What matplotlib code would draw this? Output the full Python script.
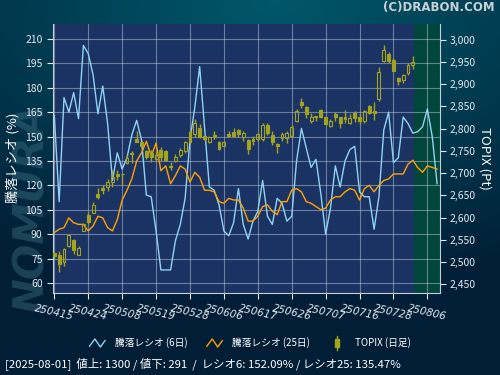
import numpy as np
import matplotlib.pyplot as plt
from matplotlib.lines import Line2D
from matplotlib.patches import Rectangle
from matplotlib.legend_handler import HandlerBase
from matplotlib.ticker import FuncFormatter

plt.rcParams['font.family'] = ['Noto Sans CJK JP', 'DejaVu Sans']

# --- data (trading days from 2025-04-15) ---
tick_labels = ["250415", "250424", "250508", "250519", "250528", "250606",
               "250617", "250626", "250707", "250716", "250728", "250806"]

ratio6 = [163, 110, 174, 165, 177, 161, 206, 201, 188, 164,
          181, 158, 123, 140, 130, 137, 151, 160, 148, 114,
          113, 92, 68, 68, 68, 86, 96, 112, 148, 168,
          193, 156, 119, 117, 108, 92, 89, 97, 118, 96,
          87, 98, 104, 123, 101, 96, 112, 109, 98, 101,
          135, 155, 143, 131, 136, 115, 90, 106, 132, 119,
          135, 142, 144, 116, 113, 113, 93, 113, 154, 165,
          134, 137, 162, 158, 152.09, 153, 156, 167, 150, 121]

ratio25 = [91, 93, 94, 100, 97, 96, 96, 92, 95, 101,
           100, 94, 92, 99, 111, 117, 124, 135, 140, 147,
           138, 146, 129, 132, 121, 126, 132, 130, 122, 128,
           125, 117, 117, 116, 110, 109, 112, 111, 111, 106,
           98, 98, 101, 107, 108, 104, 102, 110, 110, 117,
           118, 116, 110, 109, 107, 105, 106, 111, 113, 113,
           116, 118, 117, 111, 118, 120, 116, 120, 123, 124,
           127, 127, 127, 133, 135.47, 131, 128, 132, 131, 130]

topix_open = [2520, 2517, 2500, 2537, 2549, 2516, 2571, 2606, 2611, 2652,
              2667, 2668, 2680, 2698, 2698, 2723, 2746, 2776, 2771, 2749,
              2745, 2732, 2752, 2749, 2717, 2727, 2740, 2749, 2793, 2787,
              2802, 2783, 2770, 2786, 2770, 2762, 2788, 2793, 2796, 2782,
              2775, 2777, 2776, 2776, 2808, 2786, 2766, 2779, 2779, 2784,
              2818, 2859, 2848, 2818, 2829, 2842, 2826, 2805, 2832, 2826,
              2827, 2813, 2835, 2827, 2816, 2850, 2839, 2867, 2953, 2968,
              2954, 2913, 2910, 2924, 2944]
topix_high = [2523, 2524, 2532, 2564, 2552, 2537, 2588, 2612, 2636, 2667,
              2674, 2687, 2706, 2706, 2701, 2740, 2749, 2794, 2773, 2752,
              2752, 2747, 2758, 2751, 2726, 2743, 2756, 2772, 2796, 2822,
              2811, 2784, 2784, 2794, 2773, 2773, 2794, 2802, 2799, 2794,
              2777, 2784, 2790, 2812, 2812, 2794, 2767, 2792, 2794, 2807,
              2844, 2869, 2850, 2835, 2829, 2844, 2829, 2822, 2837, 2827,
              2842, 2833, 2839, 2833, 2842, 2852, 2859, 2939, 2988, 2972,
              2959, 2915, 2923, 2947, 2963]
topix_low = [2510, 2477, 2492, 2535, 2519, 2515, 2570, 2586, 2610, 2642,
             2653, 2659, 2668, 2685, 2674, 2721, 2722, 2770, 2760, 2732,
             2725, 2727, 2728, 2728, 2706, 2725, 2737, 2746, 2767, 2782,
             2779, 2773, 2767, 2777, 2752, 2760, 2782, 2781, 2782, 2773,
             2742, 2764, 2773, 2773, 2786, 2764, 2745, 2773, 2768, 2783,
             2814, 2846, 2824, 2813, 2817, 2824, 2808, 2804, 2817, 2801,
             2812, 2811, 2814, 2811, 2812, 2832, 2820, 2863, 2949, 2947,
             2927, 2899, 2903, 2921, 2934]
topix_close = [2513, 2496, 2530, 2560, 2528, 2532, 2586, 2591, 2629, 2646,
               2663, 2681, 2691, 2694, 2697, 2734, 2743, 2771, 2762, 2737,
               2736, 2740, 2736, 2730, 2713, 2736, 2752, 2770, 2770, 2812,
               2781, 2776, 2781, 2781, 2755, 2771, 2784, 2784, 2787, 2790,
               2755, 2773, 2788, 2809, 2790, 2771, 2760, 2788, 2790, 2803,
               2839, 2852, 2832, 2826, 2825, 2827, 2811, 2818, 2827, 2812,
               2822, 2824, 2824, 2818, 2839, 2835, 2835, 2927, 2977, 2951,
               2930, 2908, 2921, 2943, 2950]

OLIVE = '#a3a31c'
BLUE = '#8fd3f2'
ORANGE = '#ffa200'
TXT = '#e4e8f0'


class ZigzagHandler(HandlerBase):
    def create_artists(self, legend, orig_handle, xdescent, ydescent,
                       width, height, fontsize, trans):
        xs = -xdescent + width * np.array([0, 0.35, 0.7, 1.0])
        ys = -ydescent + height * np.array([0.1, 1.0, 0.0, 0.8])
        ln = Line2D(xs, ys, color=orig_handle.get_color(), lw=1)
        ln.set_transform(trans)
        return [ln]


class CandleHandler(HandlerBase):
    def create_artists(self, legend, orig_handle, xdescent, ydescent,
                       width, height, fontsize, trans):
        cx = -xdescent + width / 2
        w = height * 0.55
        wick = Line2D([cx, cx], [-ydescent - height * 0.4, -ydescent + height * 1.4],
                      color=OLIVE, lw=1)
        body = Rectangle((cx - w / 2, -ydescent), w, height,
                         facecolor=OLIVE, edgecolor=OLIVE)
        wick.set_transform(trans)
        body.set_transform(trans)
        return [wick, body]


fig = plt.figure(figsize=(5, 3.75), dpi=100)

# background gradient
bg = fig.add_axes([0, 0, 1, 1], zorder=-10)
yy, xx = np.mgrid[0:1:200j, 0:1:260j]
d = np.sqrt((xx - 0.55) ** 2 + (yy * 1.25) ** 2)
t = np.clip(d / 1.0, 0, 1)[..., None]
c0 = np.array([0x00, 0x58, 0x6a]) / 255
c1 = np.array([0x00, 0x1e, 0x36]) / 255
bg.imshow(c0 * (1 - t) + c1 * t, aspect='auto', extent=[0, 1, 0, 1], origin='upper')
bg.axis('off')

# faint logo watermark behind the left tick labels
fig.text(0.064, 1 - 208 / 375, 'NOMURA', rotation=90, ha='center', va='center',
         color='#3d6d80', alpha=0.45, fontsize=30, weight='bold', style='italic',
         family='DejaVu Sans', zorder=-5)

ax = fig.add_axes([0.106, 0.219, 0.773, 0.717])
ax.set_facecolor('#1b3363')
x = np.arange(len(ratio6))
ax.axvspan(74.3, 80, color='#00463a', lw=0, zorder=0.2)
ax.plot(x, ratio6, color=BLUE, lw=1)
ax.plot(x, ratio25, color=ORANGE, lw=1)
ax.set_xlim(-0.27, 79.5)
ax.set_ylim(53.9, 219.2)
ax.set_yticks(np.arange(60, 211, 15))
ax.set_xticks(np.arange(0, 78, 7))
ax.set_xticklabels(tick_labels, rotation=-13, style='italic', fontsize=7.5,
                   family='DejaVu Sans')
ax.grid(color='#c0c8dc', alpha=0.5, lw=0.8)
ax.set_axisbelow(True)
ax.tick_params(colors=TXT, labelsize=7.5, length=4, width=0.8)
for s in ['top', 'right']:
    ax.spines[s].set_visible(False)
for s in ['left', 'bottom']:
    ax.spines[s].set_color('#c8ccd8')

# candlesticks on the TOPIX axis
ax2 = ax.twinx()
o = np.array(topix_open)
h = np.array(topix_high)
l = np.array(topix_low)
c = np.array(topix_close)
xc = np.arange(len(o))
lo = np.minimum(o, c)
hi = np.maximum(o, c)
up = c >= o
ax2.vlines(xc, l, lo, color=OLIVE, lw=1)
ax2.vlines(xc, hi, h, color=OLIVE, lw=1)
hgt = np.maximum(hi - lo, 1.5)
ax2.bar(xc[~up], hgt[~up], bottom=lo[~up], width=0.6, color=OLIVE,
        edgecolor=OLIVE, lw=0.8)
ax2.bar(xc[up], hgt[up], bottom=lo[up], width=0.6, facecolor='none',
        edgecolor=OLIVE, lw=0.8)
ax2.set_ylim(2431, 3035)
ax2.set_yticks(np.arange(2450, 3001, 50))
ax2.yaxis.set_major_formatter(FuncFormatter(lambda v, p: f'{v:,.0f}'))
ax2.tick_params(colors=TXT, labelsize=7.5, length=4, width=0.8)
for s in ['top', 'left', 'bottom']:
    ax2.spines[s].set_visible(False)
ax2.spines['right'].set_color('#c8ccd8')

# labels
fig.text(0.026, 1 - 158 / 375, '騰落レシオ (%)', rotation=90, ha='center',
         va='center', color='white', fontsize=9.5)
fig.text(0.97, 1 - 158 / 375, 'TOPIX (Pt)', rotation=-90, ha='center',
         va='center', color='white', fontsize=9.5)
fig.text(0.99, 1 - 8 / 375, '(C)DRABON.COM', ha='right', va='center',
         color='#c8d0d8', fontsize=8.5, weight='bold', family='DejaVu Sans')

h1 = Line2D([], [], color=BLUE)
h2 = Line2D([], [], color=ORANGE)
h3 = Line2D([], [], color=OLIVE)
fig.legend([h1, h2, h3], ['騰落レシオ (6日)', '騰落レシオ (25日)', 'TOPIX (日足)'],
           loc='center', bbox_to_anchor=(0.5, 1 - 343 / 375), ncol=3,
           frameon=False, fontsize=7, labelcolor='white', handlelength=1.6,
           handleheight=0.9, columnspacing=2.0, handletextpad=1.0,
           handler_map={h1: ZigzagHandler(), h2: ZigzagHandler(),
                        h3: CandleHandler()})

fig.text(0.01, 1 - 364 / 375,
         '[2025-08-01]  値上: 1300 / 値下: 291  /  レシオ6: 152.09% / レシオ25: 135.47%',
         ha='left', va='center', color='white', fontsize=8.2)

fig.savefig('out.png', dpi=100)
